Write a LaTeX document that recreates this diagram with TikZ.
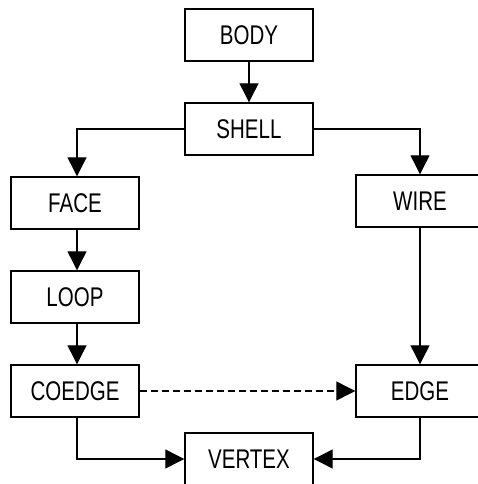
\documentclass[tikz,border=0pt]{standalone}
\usepackage{fontspec}
\setmainfont[FakeStretch=0.76]{Liberation Sans}
\usetikzlibrary{arrows.meta}
\begin{document}
\begin{tikzpicture}[x=1pt,y=-1pt,
  box/.style={draw,line width=1.4pt,minimum width=128pt,minimum height=52pt,inner sep=0pt,
    font=\fontsize{27}{30}\selectfont,text height=19pt,text depth=0pt},
  conn/.style={line width=1.2pt,-{Triangle[length=19pt,width=19pt]}}]
\useasboundingbox (0,0) rectangle (478,484);
\node[box] (body) at (249,35) {BODY};
\node[box] (shell) at (249,129) {SHELL};
\node[box] (face) at (75,203) {FACE};
\node[box] (wire) at (420,201) {WIRE};
\node[box] (loop) at (75,297) {LOOP};
\node[box] (coedge) at (75,391) {COEDGE};
\node[box] (edge) at (420,391) {EDGE};
\node[box] (vertex) at (249,459) {VERTEX};
\draw[conn] (body) -- (shell);
\draw[conn] (shell.west) -| ([xshift=2pt]face.north);
\draw[conn] (shell.east) -| (wire.north);
\draw[conn] ([xshift=2pt]face.south) -- ([xshift=2pt]loop.north);
\draw[conn] ([xshift=2pt]loop.south) -- ([xshift=2pt]coedge.north);
\draw[conn] (wire.south) -- (edge.north);
\draw[conn,dash pattern=on 7pt off 4pt] (coedge.east) -- (edge.west);
\draw[conn] ([xshift=2pt]coedge.south) |- (vertex.west);
\draw[conn] (edge.south) |- (vertex.east);
\end{tikzpicture}
\end{document}
